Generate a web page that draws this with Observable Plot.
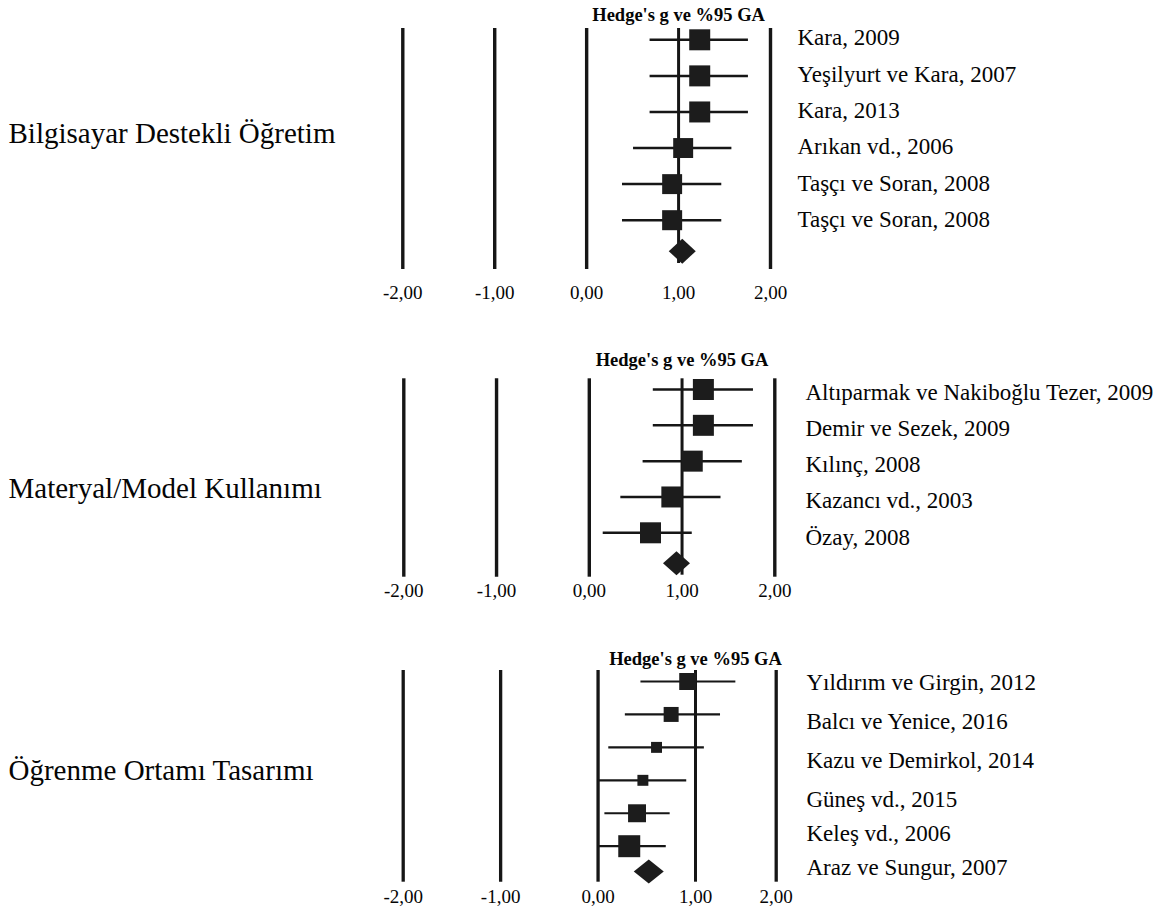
<!DOCTYPE html>
<html>
<head>
<meta charset="utf-8">
<script src="https://cdn.jsdelivr.net/npm/d3@7"></script>
<script src="https://cdn.jsdelivr.net/npm/@observablehq/plot@0.6"></script>
<style>
  html, body { margin: 0; padding: 0; background: #ffffff; }
  #chart { position: relative; width: 1176px; height: 915px; overflow: hidden; background: #ffffff; }
  .panel { position: absolute; left: 0; width: 1176px; }
  .panel svg { position: absolute; top: 0; }
</style>
</head>
<body>
<div id="chart"></div>
<script>
// ---------------- data ----------------
const axisTitle = "Hedge's g ve %95 GA";
const tickValues = [-2, -1, 0, 1, 2];
const tickLabels = ["-2,00", "-1,00", "0,00", "1,00", "2,00"];
const gridValues = [-2, -1, 0, 2];
const refValue = [1];

const categories = ["Bilgisayar Destekli Öğretim", "Materyal/Model Kullanımı", "Öğrenme Ortamı Tasarımı"];

const studies1 = ["Kara, 2009", "Yeşilyurt ve Kara, 2007", "Kara, 2013", "Arıkan vd., 2006", "Taşçı ve Soran, 2008", "Taşçı ve Soran, 2008"];
const effect1 = [1.23, 1.23, 1.23, 1.05, 0.93, 0.93];
const lower1 = [0.69, 0.69, 0.69, 0.51, 0.39, 0.39];
const upper1 = [1.76, 1.76, 1.76, 1.58, 1.47, 1.47];
const weight1 = [17.5, 17.5, 17.5, 15.8, 15.8, 15.9];
const pooled1 = 1.04;

const studies2 = ["Altıparmak ve Nakiboğlu Tezer, 2009", "Demir ve Sezek, 2009", "Kılınç, 2008", "Kazancı vd., 2003", "Özay, 2008"];
const effect2 = [1.23, 1.23, 1.11, 0.89, 0.66];
const lower2 = [0.69, 0.69, 0.58, 0.34, 0.15];
const upper2 = [1.77, 1.77, 1.65, 1.42, 1.11];
const weight2 = [20, 20, 20, 20, 20];
const pooled2 = 0.94;

const studies3 = ["Yıldırım ve Girgin, 2012", "Balcı ve Yenice, 2016", "Kazu ve Demirkol, 2014", "Güneş vd., 2015", "Keleş vd., 2006", "Araz ve Sungur, 2007"];
const effect3 = [0.92, 0.75, 0.60, 0.46, 0.40, 0.32];
const lower3 = [0.44, 0.28, 0.11, 0.00, 0.07, 0.00];
const upper3 = [1.50, 1.31, 1.11, 0.91, 0.74, 0.70];
const weight3 = [18.5, 14.4, 7.7, 7.7, 20.7, 31.0];
const pooled3 = 0.52;

// ---------------- layout (positions & styles) ----------------
const panels = [
  {category: categories[0], studies: studies1, effect: effect1, lower: lower1, upper: upper1, weight: weight1, pooled: pooled1,
   L: {top: 0, height: 315, frameTop: 28, frameBottom: 269, xDomain: [-2, 2], xRange: [402.3, 770],
       yRange: [39.3, 219.7, 250.7], tickPadding: 15.5, titleDy: -13, catDy: -15.5, refInsetBottom: 6,
       labelDomain: [0, 5], labelRange: [37.2, 219.5], labelX: 797, diamondR: 13.5, diamondAspect: 0.93,
       maxR: 11.85, gridWidth: 3.4, refWidth: 3, ciWidth: 2.5}},
  {category: categories[1], studies: studies2, effect: effect2, lower: lower2, upper: upper2, weight: weight2, pooled: pooled2,
   L: {top: 315, height: 300, frameTop: 63.3, frameBottom: 261.7, xDomain: [-2, 2], xRange: [403.3, 774.3],
       yRange: [74, 217.3, 247.7], tickPadding: 6.2, titleDy: -18.3, catDy: 10.5, refInsetBottom: 2,
       labelDomain: [0, 4], labelRange: [77.2, 221.7], labelX: 805, diamondR: 13.5, diamondAspect: 0.89,
       maxR: 11.85, gridWidth: 3.4, refWidth: 3, ciWidth: 2.5}},
  {category: categories[2], studies: studies3, effect: effect3, lower: lower3, upper: upper3, weight: weight3, pooled: pooled3,
   L: {top: 615, height: 300, frameTop: 55, frameBottom: 266.7, xDomain: [-2, 1, 2], xRange: [402.7, 695, 775.7],
       yRange: [66, 230.7, 256], tickPadding: 6.9, titleDy: -11, catDy: -5.3, refInsetBottom: 0,
       labelDomain: [0, 3, 5], labelRange: [67.2, 184.2, 252.5], labelX: 806, diamondR: 15, diamondAspect: 0.8,
       maxR: 12.4, gridWidth: 3.3, refWidth: 3, ciWidth: 2.2}}
];

const FONT = "'Liberation Serif', 'Times New Roman', Times, serif";
const INK = "#161616";
const TEXT_INK = "#050505";
const FOREST_W = 796;

function diamondSymbol(aspect) {
  return {
    draw(ctx, size) {
      const r = Math.sqrt(size / Math.PI);
      const h = r * aspect;
      ctx.moveTo(0, -h); ctx.lineTo(r, 0); ctx.lineTo(0, h); ctx.lineTo(-r, 0); ctx.closePath();
    }
  };
}

function forest(p) {
  const L = p.L;
  const n = p.effect.length;
  const rows = p.effect.map((e, i) => ({i, e, lo: p.lower[i], hi: p.upper[i], w: p.weight[i]}));
  return Plot.plot({
    width: FOREST_W, height: L.height,
    marginTop: L.frameTop, marginBottom: L.height - L.frameBottom, marginLeft: 8, marginRight: 0,
    style: {background: "transparent", fontFamily: FONT, fontSize: "19px", color: TEXT_INK},
    x: {type: "linear", domain: L.xDomain, range: L.xRange},
    y: {type: "linear", domain: [0, n - 1, n], range: L.yRange, axis: null},
    r: {type: "sqrt", domain: [0, d3.max(p.weight)], range: [0, L.maxR]},
    marks: [
      Plot.ruleX(gridValues, {stroke: INK, strokeWidth: L.gridWidth}),
      Plot.ruleX(refValue, {stroke: INK, strokeWidth: L.refWidth, insetBottom: L.refInsetBottom}),
      Plot.ruleY(rows, {y: "i", x1: "lo", x2: "hi", stroke: INK, strokeWidth: L.ciWidth}),
      Plot.dot(rows, {x: "e", y: "i", r: "w", symbol: "square", fill: "#1c1c1c", stroke: "none"}),
      Plot.dot([p.pooled], {x: d => d, y: () => n, r: L.diamondR, symbol: diamondSymbol(L.diamondAspect), fill: "#1c1c1c", stroke: "none"}),
      Plot.axisX({ticks: tickValues, tickFormat: d => tickLabels[tickValues.indexOf(d)], tickSize: 0,
                  tickPadding: L.tickPadding, fontSize: 19, fontFamily: FONT, fill: TEXT_INK}),
      Plot.text([axisTitle], {x: () => refValue[0], text: d => d, frameAnchor: "top", lineAnchor: "middle", dy: L.titleDy,
                  fontWeight: "bold", fontSize: 18.5, fontFamily: FONT, fill: TEXT_INK}),
      Plot.text([p.category], {text: d => d, frameAnchor: "left", textAnchor: "start", lineAnchor: "middle", dy: L.catDy,
                  fontSize: 29, fontFamily: FONT, fill: TEXT_INK})
    ]
  });
}

function labels(p) {
  const L = p.L;
  return Plot.plot({
    width: 1176 - FOREST_W, height: L.height,
    marginLeft: L.labelX - FOREST_W, marginRight: 0, marginTop: 0, marginBottom: 0,
    style: {background: "transparent", fontFamily: FONT, fontSize: "23px", color: TEXT_INK},
    y: {type: "linear", domain: L.labelDomain, range: L.labelRange, axis: null},
    marks: [
      Plot.text(p.studies, {y: (d, i) => i, text: d => d, frameAnchor: "left", textAnchor: "start", lineAnchor: "middle",
                            fontSize: 23, fontFamily: FONT, fill: TEXT_INK})
    ]
  });
}

const chart = document.getElementById("chart");
for (const p of panels) {
  const div = document.createElement("div");
  div.className = "panel";
  div.style.top = p.L.top + "px";
  div.style.height = p.L.height + "px";
  const f = forest(p);
  f.style.left = "0px";
  const l = labels(p);
  l.style.left = FOREST_W + "px";
  div.appendChild(f);
  div.appendChild(l);
  chart.appendChild(div);
}
</script>
</body>
</html>
